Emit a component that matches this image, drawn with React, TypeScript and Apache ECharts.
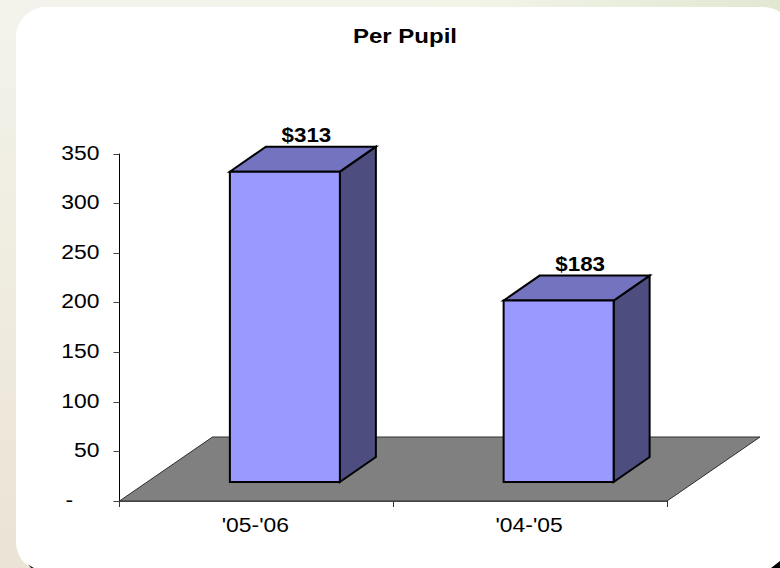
import React, { useEffect, useRef } from "react";
import * as echarts from "echarts";

const title = "Per Pupil";
const categories = ["'05-'06", "'04-'05"];
const perPupil = [313, 183];
const valueLabels = ["$313", "$183"];
const yTicks = [0, 50, 100, 150, 200, 250, 300, 350];
const FONT = '"Liberation Sans", Arial, sans-serif';
const STRETCH = 1.09;

function renderFloor(params: any, api: any) {
  const c = params.coordSys;
  const x0 = c.x, x1 = c.x + c.width, y = c.y + c.height;
  return {
    type: "polygon",
    shape: { points: [[x0, y], [x1, y], [x1 + 93, y - 64], [x0 + 93, y - 64]] },
    style: { fill: "#808080", stroke: "#2e2e2e", lineWidth: 1 },
    silent: true,
  };
}

function renderBar(params: any, api: any) {
  const base = api.coord([api.value(0), 0]);
  const top = api.coord([api.value(0), api.value(1)]);
  const l = base[0] - 26.5, r = l + 110;
  const by = base[1] - 19, ty = top[1] - 19;
  const dx = 36, dy = -25;
  const line = { stroke: "#000", lineWidth: 2, lineJoin: "miter" };
  return {
    type: "group",
    children: [
      { type: "polygon", shape: { points: [[r, by], [r + dx, by + dy], [r + dx, ty + dy], [r, ty]] }, style: { fill: "#4d4d80", ...line } },
      { type: "polygon", shape: { points: [[l, ty], [r, ty], [r + dx, ty + dy], [l + dx, ty + dy]] }, style: { fill: "#7373bf", ...line } },
      { type: "rect", shape: { x: l, y: ty, width: 110, height: by - ty }, style: { fill: "#9999ff", ...line } },
      {
        type: "text",
        x: l + 76.5, y: ty + dy - 11, scaleX: STRETCH,
        style: { text: valueLabels[params.dataIndex], font: `bold 20.5px ${FONT}`, fill: "#000", align: "center", verticalAlign: "middle" },
      },
    ],
  };
}

function renderYLabel(params: any, api: any) {
  const v = api.value(1);
  const p = api.coord([0, v]);
  return {
    type: "text",
    x: v === 0 ? 73 : 99.5, y: p[1] - 1.5, scaleX: STRETCH,
    style: { text: v === 0 ? "-" : String(v), font: `21px ${FONT}`, fill: "#000", align: "right", verticalAlign: "middle" },
  };
}

function renderXLabel(params: any, api: any) {
  const p = api.coord([api.value(0), 0]);
  return {
    type: "text",
    x: p[0] - 1, y: p[1] + 24, scaleX: STRETCH,
    style: { text: categories[params.dataIndex], font: `21px ${FONT}`, fill: "#000", align: "center", verticalAlign: "middle" },
  };
}

export default function App() {
  const ref = useRef<HTMLDivElement>(null);
  useEffect(() => {
    document.body.style.margin = "0";
    const chart = echarts.init(ref.current!, undefined, { renderer: "svg" });
    chart.setOption({
      animation: false,
      backgroundColor: {
        type: "linear", x: 0, y: 0, x2: 1, y2: 1,
        colorStops: [
          { offset: 0, color: "#f4f4ee" },
          { offset: 1, color: "#eae3d6" },
        ],
      },
      graphic: [
        {
          type: "rect", z: -2, silent: true,
          shape: { x: 0, y: 0, width: 780, height: 20 },
          style: {
            fill: {
              type: "linear", x: 0, y: 0, x2: 1, y2: 0,
              colorStops: [
                { offset: 0, color: "#f3f3ec" },
                { offset: 0.6, color: "#f2f4e8" },
                { offset: 1, color: "#e1e8d2" },
              ],
            },
          },
        },
        {
          type: "rect", z: -2, silent: true,
          shape: { x: 0, y: 0, width: 36, height: 568 },
          style: {
            fill: {
              type: "linear", x: 0, y: 0, x2: 0, y2: 1,
              colorStops: [
                { offset: 0, color: "#f3f3ec" },
                { offset: 0.3, color: "#f1efe4" },
                { offset: 1, color: "#ebe3d5" },
              ],
            },
          },
        },
        {
          type: "rect", z: -1, silent: true,
          shape: { x: 16, y: 7, width: 777, height: 565, r: 30 },
          style: { fill: "#ffffff" },
        },
        {
          type: "polygon", z: -1, silent: true,
          shape: { points: [[780, 561], [780, 568], [771, 568]] },
          style: { fill: "#000" },
        },
        {
          type: "polygon", z: -1, silent: true,
          shape: { points: [[28, 564.5], [34, 568], [31, 568]] },
          style: { fill: "#222" },
        },
        {
          type: "text", silent: true, x: 405, y: 36, scaleX: 1.2,
          style: { text: title, font: `bold 20px ${FONT}`, fill: "#000", align: "center", verticalAlign: "middle" },
        },
      ],
      grid: { left: 119.5, right: 113, top: 154, bottom: 67 },
      xAxis: {
        type: "category",
        data: categories,
        boundaryGap: true,
        axisLine: { show: true, lineStyle: { color: "#222", width: 1.5 } },
        axisTick: { show: true, alignWithLabel: false, length: 6, lineStyle: { color: "#333" } },
        axisLabel: { show: false },
      },
      yAxis: {
        type: "value",
        min: 0, max: 350, interval: 50,
        splitLine: { show: false },
        axisLine: { show: true, lineStyle: { color: "#000", width: 1 } },
        axisTick: { show: true, length: 6, lineStyle: { color: "#444" } },
        axisLabel: { show: false },
      },
      series: [
        { type: "custom", z: 1, renderItem: renderFloor, data: [[0, 0]], silent: true, clip: false },
        {
          type: "custom", z: 2, renderItem: renderBar, silent: true, clip: false,
          data: perPupil.map((v, i) => [i, v]),
          encode: { x: 0, y: 1 },
        },
        {
          type: "custom", z: 3, renderItem: renderYLabel, silent: true, clip: false,
          data: yTicks.map((v) => [0, v]),
          encode: { x: 0, y: 1 },
        },
        {
          type: "custom", z: 3, renderItem: renderXLabel, silent: true, clip: false,
          data: categories.map((_, i) => [i, 0]),
          encode: { x: 0, y: 1 },
        },
      ],
    });
    return () => chart.dispose();
  }, []);
  return <div ref={ref} style={{ width: 780, height: 568 }} />;
}
